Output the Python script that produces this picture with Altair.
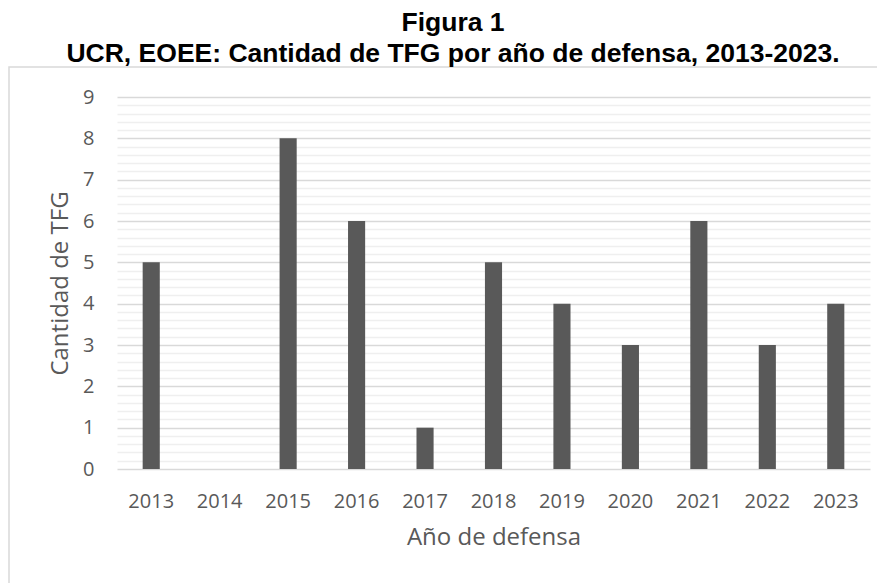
import altair as alt
import pandas as pd

# Data
years = ["2013", "2014", "2015", "2016", "2017", "2018", "2019", "2020", "2021", "2022", "2023"]
counts = [5, 0, 8, 6, 1, 5, 4, 3, 6, 3, 4]
y_major_ticks = [0, 1, 2, 3, 4, 5, 6, 7, 8, 9]
y_minor_ticks = [round(i * 0.2, 1) for i in range(46) if i % 5 != 0]
title_lines = ["Figura 1", "UCR, EOEE: Cantidad de TFG por año de defensa, 2013-2023."]
x_title = "Año de defensa"
y_title = "Cantidad de TFG"

df = pd.DataFrame({"Año": years, "Cantidad": counts})

TXT = "#595959"
W, H = 753, 372

x_scale = alt.Scale(paddingInner=0.75, paddingOuter=0.375)

bars = alt.Chart(df).mark_bar(color="#595959").encode(
    x=alt.X(
        "Año:N",
        sort=years,
        scale=x_scale,
        axis=alt.Axis(
            title=x_title,
            labelAngle=0,
            labelAlign="center",
            labelBaseline="top",
            labelFont="Open Sans",
            labelFontSize=20,
            labelColor=TXT,
            labelPadding=22,
            ticks=False,
            tickSize=0,
            domain=False,
            grid=False,
            titleFont="Open Sans",
            titleFontSize=24,
            titleFontWeight="normal",
            titleColor=TXT,
            titlePadding=14,
        ),
    ),
    y=alt.Y(
        "Cantidad:Q",
        scale=alt.Scale(domain=[0, 9], nice=False, zero=True),
        axis=alt.Axis(
            title=y_title,
            values=y_major_ticks,
            format="d",
            labelFont="Open Sans",
            labelFontSize=20,
            labelColor=TXT,
            labelPadding=23,
            ticks=False,
            tickSize=0,
            domain=False,
            grid=True,
            gridColor="#d9d9d9",
            gridWidth=1.3,
            titleFont="Open Sans",
            titleFontSize=24,
            titleFontWeight="normal",
            titleColor=TXT,
            titlePadding=10,
        ),
    ),
)

minor = alt.Chart(df).mark_point(opacity=0).encode(
    y=alt.Y(
        "Cantidad:Q",
        title=None,
        scale=alt.Scale(domain=[0, 9], nice=False, zero=True),
        axis=alt.Axis(
            orient="right",
            values=y_minor_ticks,
            labels=False,
            ticks=False,
            tickSize=0,
            domain=False,
            grid=True,
            gridColor="#efefef",
            gridWidth=1.3,
        ),
    ),
)

frame = alt.Chart(pd.DataFrame({"k": [0]})).mark_rect(
    fillOpacity=0, stroke="#d9d9d9", strokeWidth=1.5
).encode(
    x=alt.value(-108), x2=alt.value(800), y=alt.value(-30), y2=alt.value(600)
)

t1 = alt.Chart(pd.DataFrame({"t": [title_lines[0]]})).mark_text(
    font="Liberation Sans", fontWeight="bold", fontSize=26.5, align="center",
    baseline="alphabetic", color="black"
).encode(text="t:N", x=alt.value(336), y=alt.value(-66))

t2 = alt.Chart(pd.DataFrame({"t": [title_lines[1]]})).mark_text(
    font="Liberation Sans", fontWeight="bold", fontSize=26.5, align="center",
    baseline="alphabetic", color="black"
).encode(text="t:N", x=alt.value(336), y=alt.value(-35))

chart = (
    alt.layer(minor, bars, frame, t1, t2)
    .resolve_axis(y="independent")
    .properties(
        width=W,
        height=H,
        autosize=alt.AutoSizeParams(type="none"),
        padding={"left": 109, "top": 89, "right": 7, "bottom": 114},
    )
    .configure_view(strokeWidth=0)
)

chart.save("out.html", embed_options={"renderer": "svg", "actions": False})
